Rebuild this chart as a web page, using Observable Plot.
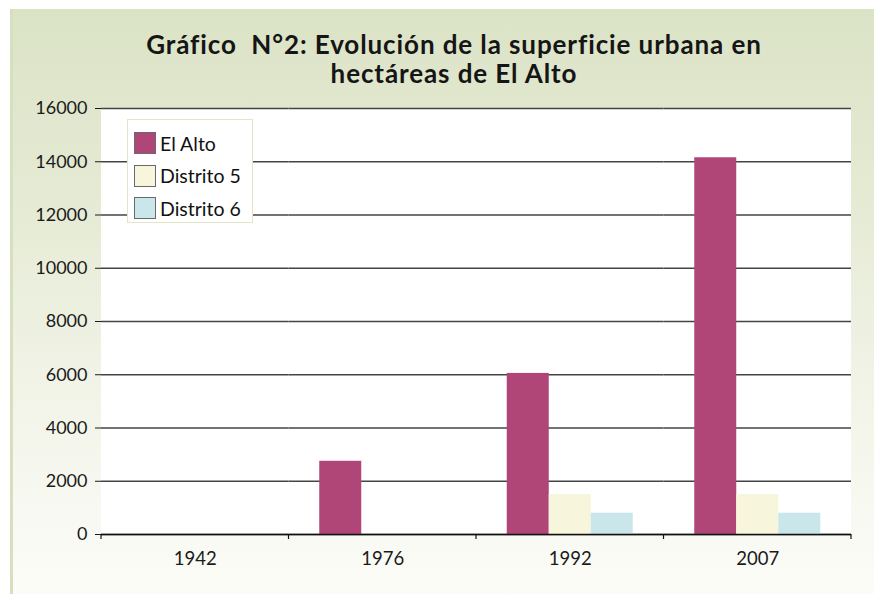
<!DOCTYPE html>
<html>
<head>
<meta charset="utf-8">
<script src="https://cdn.jsdelivr.net/npm/d3@7"></script>
<script src="https://cdn.jsdelivr.net/npm/@observablehq/plot@0.6"></script>
<style>
  html, body { margin: 0; padding: 0; background: #ffffff; }
  #wrap { position: relative; width: 875px; height: 594px; overflow: hidden; font-family: Lato, "Open Sans", sans-serif; color: #111; }
  #panel { position: absolute; left: 10px; top: 9px; width: 864px; height: 585px;
           background: linear-gradient(to bottom, #dbe3c6 0%, #e6ebd5 35%, #f3f5ea 70%, #fcfcf8 100%);
           border-left: 3px solid #d6dfbe; box-sizing: border-box; }
  #title { position: relative; height: 96px; box-sizing: border-box; padding-top: 30px;
           width: 908px; text-align: center; font-weight: 700; font-size: 26px; line-height: 29px;
           letter-spacing: 0.9px; color: #151515; }
  #chart { position: relative; }
  #legend { position: absolute; left: 127px; top: 119px; width: 126px; height: 104px; box-sizing: border-box;
            background: #ffffff; border: 1px solid #e4e4c6; padding-top: 7px; padding-left: 6px; }
  .item { display: flex; align-items: center; height: 32.5px; font-size: 19.5px; }
  .sw { width: 22px; height: 22px; border: 1px solid #6a6a6a; margin-right: 4px; box-sizing: border-box; }
</style>
</head>
<body>
<div id="wrap">
  <div id="panel"></div>
  <div id="title">Gráfico&nbsp; N°2: Evolución de la superficie urbana en<br>hectáreas de El Alto</div>
  <div id="chart"></div>
  <div id="legend"></div>
</div>
<script>
const years = ["1942", "1976", "1992", "2007"];
const seriesNames = ["El Alto", "Distrito 5", "Distrito 6"];
const elAlto = [0, 2750, 6050, 14150];
const distrito5 = [null, null, 1500, 1500];
const distrito6 = [null, null, 800, 800];
const seriesColors = ["#b04577", "#f7f5dc", "#c9e7ea"];
const yTicks = [0, 2000, 4000, 6000, 8000, 10000, 12000, 14000, 16000];

const seriesValues = [elAlto, distrito5, distrito6];
const rows = [];
years.forEach((yr, i) => {
  seriesValues.forEach((arr, j) => {
    if (arr[i] != null) rows.push({year: yr, series: seriesNames[j], value: arr[i]});
  });
});

const chart = Plot.plot({
  width: 875,
  height: 498,
  marginTop: 12,
  marginLeft: 101,
  marginRight: 24,
  marginBottom: 60,
  style: {background: "transparent", fontFamily: "Lato, 'Open Sans', sans-serif", fontSize: "18px", color: "#1a1a1a"},
  fx: {domain: years, padding: 0, label: null, round: false},
  x: {domain: seriesNames, paddingInner: 0, paddingOuter: 0.732, axis: null, round: false},
  y: {domain: [0, 16000], ticks: yTicks, label: null},
  color: {domain: seriesNames, range: seriesColors},
  marks: [
    Plot.gridY(yTicks, {stroke: "#444", strokeOpacity: 1, strokeWidth: 1.5}),
    Plot.axisY(yTicks, {tickSize: 6, tickPadding: 8, label: null, fontSize: 18, tickFormat: d => String(d)}),
    Plot.barY(rows, {fx: "year", x: "series", y: "value", fill: "series"}),
    Plot.ruleY([0], {stroke: "#111", strokeWidth: 1.5}),
    Plot.axisFx({anchor: "bottom", tickSize: 0, tickPadding: 17, label: null, fontSize: 18.5})
  ]
});
document.getElementById("chart").appendChild(chart);

const fxs = chart.scale("fx");
const ys = chart.scale("y");
const y0 = ys.apply(0);
const yTop = ys.apply(16000);
const xLeft = fxs.apply(years[0]);
const xRight = fxs.apply(years[years.length - 1]) + fxs.bandwidth;

// white plot-area background spanning all year groups (inserted beneath all marks)
d3.select(chart).insert("rect", ":first-child")
  .attr("x", xLeft).attr("y", yTop)
  .attr("width", xRight - xLeft).attr("height", y0 - yTop)
  .attr("fill", "white");

// boundary ticks between year groups, derived from the fx scale
const bounds = years.map(y => fxs.apply(y)).concat([xRight]);
d3.select(chart).append("g")
  .selectAll("line").data(bounds).join("line")
  .attr("x1", d => d).attr("x2", d => d)
  .attr("y1", y0).attr("y2", y0 + 5)
  .attr("stroke", "#111").attr("stroke-width", 1.2);

// legend
const legend = d3.select("#legend");
seriesNames.forEach((name, i) => {
  const item = legend.append("div").attr("class", "item");
  item.append("div").attr("class", "sw").style("background", seriesColors[i]);
  item.append("span").text(name);
});
</script>
</body>
</html>
